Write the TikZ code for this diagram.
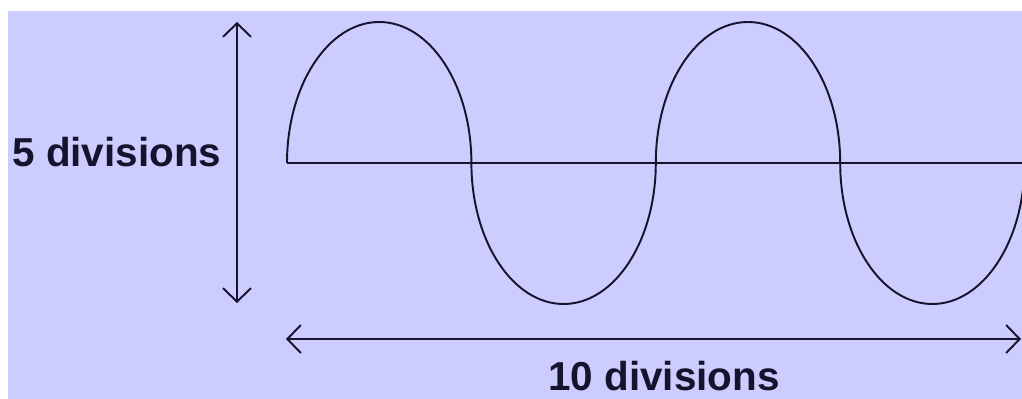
\documentclass[tikz,border=0pt]{standalone}
\usepackage{fontspec}
\setmainfont{Liberation Sans}
\usetikzlibrary{arrows.meta}
\definecolor{lavender}{HTML}{CCCCFF}
\definecolor{ink}{HTML}{14142E}
\tikzset{
  wave/.style={draw=ink, line width=1.1pt},
  dimarrow/.style={{Straight Barb[length=0.27cm, width=0.56cm]}-{Straight Barb[length=0.27cm, width=0.56cm]},
                   draw=ink, line width=1.1pt},
  lbl/.style={inner sep=0pt, text=ink, font=\fontsize{23}{27}\selectfont\bfseries},
}
\begin{document}
\begin{tikzpicture}[x=0.02cm, y=0.02cm]
% page and background
\useasboundingbox (0,0) rectangle (1022,399);
\fill[white] (0,0) rectangle (1022,399);
\fill[lavender] (8,0) rectangle (1022,388);

% end points of the two dimension arrows
\coordinate (vtop) at (237,377);
\coordinate (vbot) at (237,96);
\coordinate (hleft) at (286,60);
\coordinate (hright) at (1021,60);

% axis and wave
\begin{scope}
\clip (8,0) rectangle (1022,388);
\draw[wave] (287,236) -- (1022,236);
\draw[wave] (287,236)
  arc[start angle=180, end angle=0, x radius=92.2, y radius=141]
  arc[start angle=180, end angle=360, x radius=92.2, y radius=141]
  arc[start angle=180, end angle=0, x radius=92.2, y radius=141]
  arc[start angle=180, end angle=360, x radius=92.2, y radius=141];
\end{scope}

% dimensions
\draw[dimarrow] (vbot) -- (vtop);
\draw[dimarrow] (hleft) -- (hright);
\node[lbl, anchor=base west] (fivediv) at (12,232) {5 divisions};
\node[lbl, anchor=base west] (tendiv) at (548,8) {10 divisions};
\end{tikzpicture}
\end{document}
